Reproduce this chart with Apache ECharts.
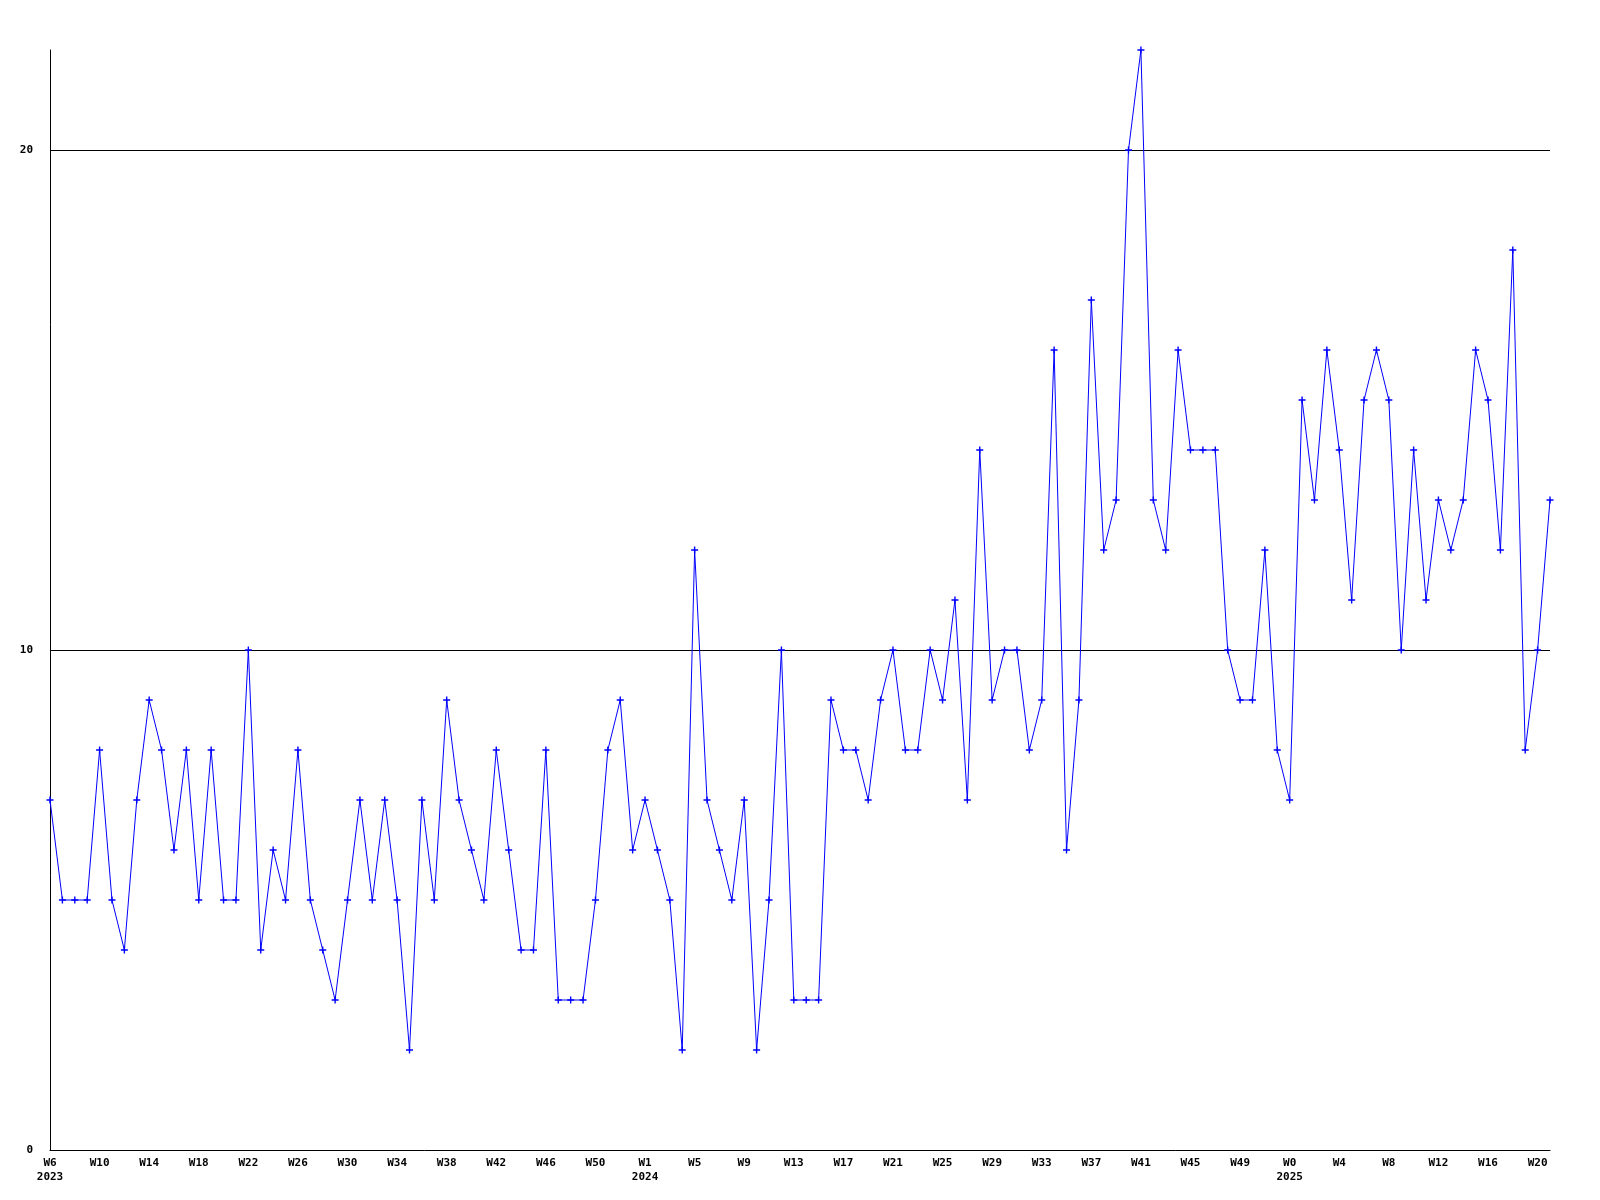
<!DOCTYPE html>
<html>
<head>
<meta charset="utf-8">
<script src="https://cdn.jsdelivr.net/npm/echarts@6/dist/echarts.min.js"></script>
<style>html,body{margin:0;padding:0;background:#fff;}#chart{width:1600px;height:1200px;}</style>
</head>
<body>
<div id="chart"></div>
<script>
// Week categories (2023 W6..W53, 2024 W1..W52, 2025 W0..W21)
var categories = [
  "W6","W7","W8","W9","W10","W11","W12","W13","W14","W15","W16","W17","W18","W19","W20","W21","W22","W23","W24","W25","W26","W27","W28","W29","W30","W31","W32","W33","W34","W35","W36","W37","W38","W39","W40","W41","W42","W43","W44","W45","W46","W47","W48","W49","W50","W51","W52","W53",
  "W1","W2","W3","W4","W5","W6","W7","W8","W9","W10","W11","W12","W13","W14","W15","W16","W17","W18","W19","W20","W21","W22","W23","W24","W25","W26","W27","W28","W29","W30","W31","W32","W33","W34","W35","W36","W37","W38","W39","W40","W41","W42","W43","W44","W45","W46","W47","W48","W49","W50","W51","W52",
  "W0","W1","W2","W3","W4","W5","W6","W7","W8","W9","W10","W11","W12","W13","W14","W15","W16","W17","W18","W19","W20","W21"
];
// Year shown under the first labelled week of each year
var yearLabels = { 0: "2023", 48: "2024", 100: "2025" };
var values = [
  7,5,5,5,8,5,4,7,9,8,
  6,8,5,8,5,5,10,4,6,5,
  8,5,4,3,5,7,5,7,5,2,
  7,5,9,7,6,5,8,6,4,4,
  8,3,3,3,5,8,9,6,7,6,
  5,2,12,7,6,5,7,2,5,10,
  3,3,3,9,8,8,7,9,10,8,
  8,10,9,11,7,14,9,10,10,8,
  9,16,6,9,17,12,13,20,22,13,
  12,16,14,14,14,10,9,9,12,8,
  7,15,13,16,14,11,15,16,15,10,
  14,11,13,12,13,16,15,12,18,8,
  10,13
];
var yTicks = [0, 10, 20];
var gridLines = [10, 20];

var font = "'DejaVu Sans Mono', 'Liberation Mono', monospace";
var chart = echarts.init(document.getElementById('chart'), null, {renderer: 'canvas'});
chart.setOption({
  animation: false,
  backgroundColor: '#ffffff',
  grid: { left: 50, right: 50, top: 50, bottom: 50, containLabel: false },
  xAxis: {
    type: 'category',
    data: categories,
    boundaryGap: false,
    axisLine: { show: true, lineStyle: { color: '#000', width: 1 } },
    axisTick: { show: false },
    splitLine: { show: false },
    axisLabel: {
      interval: 3,
      margin: 6,
      color: '#000',
      fontFamily: font,
      fontWeight: 'bold',
      fontSize: 11,
      lineHeight: 14,
      formatter: function (v, i) {
        return yearLabels[i] ? v + '\n' + yearLabels[i] : v;
      }
    }
  },
  yAxis: {
    type: 'value',
    min: 0,
    max: 22,
    interval: 10,
    axisLine: { show: true, lineStyle: { color: '#000', width: 1 } },
    axisTick: { show: false },
    splitLine: { show: false },
    axisLabel: {
      margin: 17,
      color: '#000',
      fontFamily: font,
      fontWeight: 'bold',
      fontSize: 11,
      formatter: function (v) { return yTicks.indexOf(v) >= 0 ? String(v) : ''; }
    }
  },
  series: [{
    type: 'line',
    data: values,
    symbol: 'path://M2,0H3V2H5V3H3V5H2V3H0V2H2Z',
    symbolSize: 7,
    showAllSymbol: true,
    z: 3,
    itemStyle: { color: '#0000ff' },
    lineStyle: { color: '#0000ff', width: 1 },
    emphasis: { disabled: true },
    markLine: {
      silent: true,
      symbol: 'none',
      label: { show: false },
      animation: false,
      z: 1,
      lineStyle: { color: '#000', width: 1, type: 'solid' },
      emphasis: { disabled: true },
      data: gridLines.map(function (g) { return { yAxis: g }; })
    }
  }]
});
</script>
</body>
</html>
